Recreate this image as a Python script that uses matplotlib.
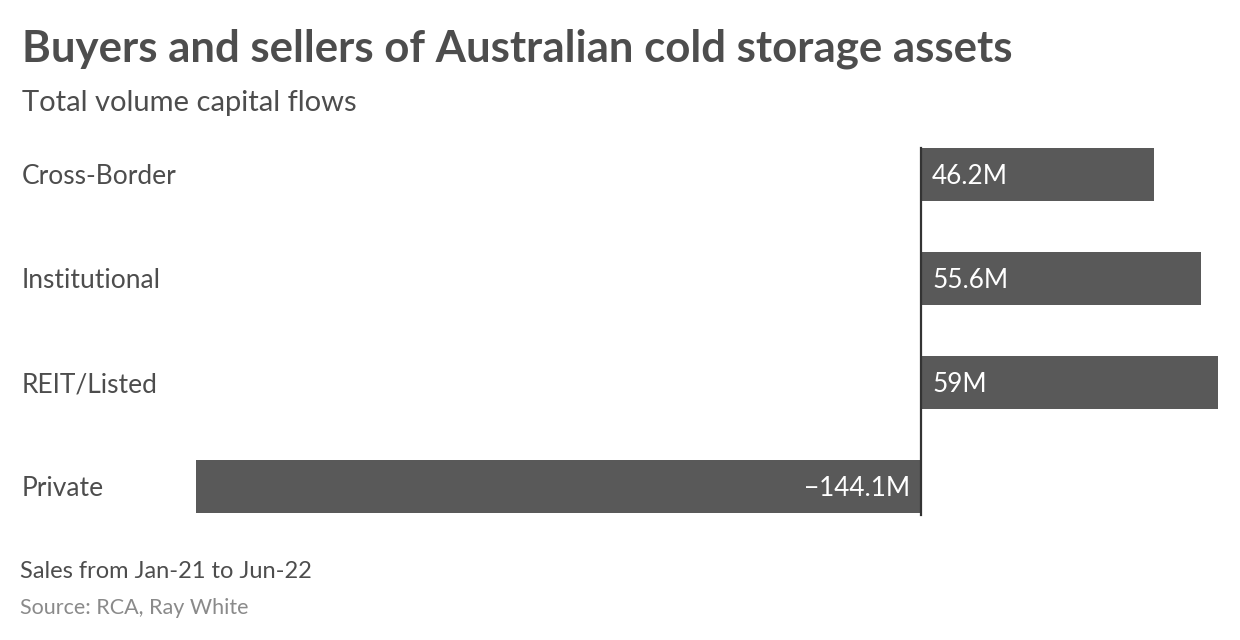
import matplotlib.pyplot as plt

plt.rcParams['font.family'] = ['Lato', 'DejaVu Sans']

categories = ['Cross-Border', 'Institutional', 'REIT/Listed', 'Private']
values = [46.2, 55.6, 59.0, -144.1]
value_labels = ['46.2M', '55.6M', '59M', '\u2212144.1M']

BAR = '#595959'
TXT = '#4d4d4d'

W, H = 1240, 640
fig = plt.figure(figsize=(W / 100, H / 100), dpi=100)
fig.patch.set_facecolor('white')

# axes spans the bars exactly: x from min to max value, y from row gaps
ax = fig.add_axes([196 / W, 1 - 538.5 / H, (1218 - 196) / W, 416 / H])
ypos = list(range(len(categories)))
ax.barh(ypos, values, height=0.51, color=BAR, zorder=2)
ax.set_xlim(min(values), max(values))
ax.set_ylim(3.5, -0.5)
ax.axis('off')
ax.axvline(0, ymin=0.056, ymax=0.939, color='#333333', lw=1.6, zorder=3)

for y, v, lab in zip(ypos, values, value_labels):
    if v >= 0:
        ax.annotate(lab, (0, y), xytext=(11, -2), textcoords='offset pixels',
                    ha='left', va='center', color='white', fontsize=18.8)
    else:
        ax.annotate(lab, (0, y), xytext=(-11, -2), textcoords='offset pixels',
                    ha='right', va='center', color='white', fontsize=18.8)

for y, c in zip(ypos, categories):
    ax.annotate(c, (0, y), xycoords=('figure fraction', 'data'),
                xytext=(22, -2), textcoords='offset pixels',
                ha='left', va='center', color=TXT, fontsize=19)

fig.text(22 / W, 1 - 49 / H, 'Buyers and sellers of Australian cold storage assets',
         ha='left', va='center', fontsize=31.5, fontweight='bold', color=TXT)
fig.text(22 / W, 1 - 103 / H, 'Total volume capital flows',
         ha='left', va='center', fontsize=21, color=TXT)
fig.text(20 / W, 1 - 571 / H, 'Sales from Jan-21 to Jun-22',
         ha='left', va='center', fontsize=17, color=TXT)
fig.text(20 / W, 1 - 608 / H, 'Source: RCA, Ray White',
         ha='left', va='center', fontsize=15.5, color='#8a8a8a')

fig.savefig('out.png', dpi=100, facecolor='white')
